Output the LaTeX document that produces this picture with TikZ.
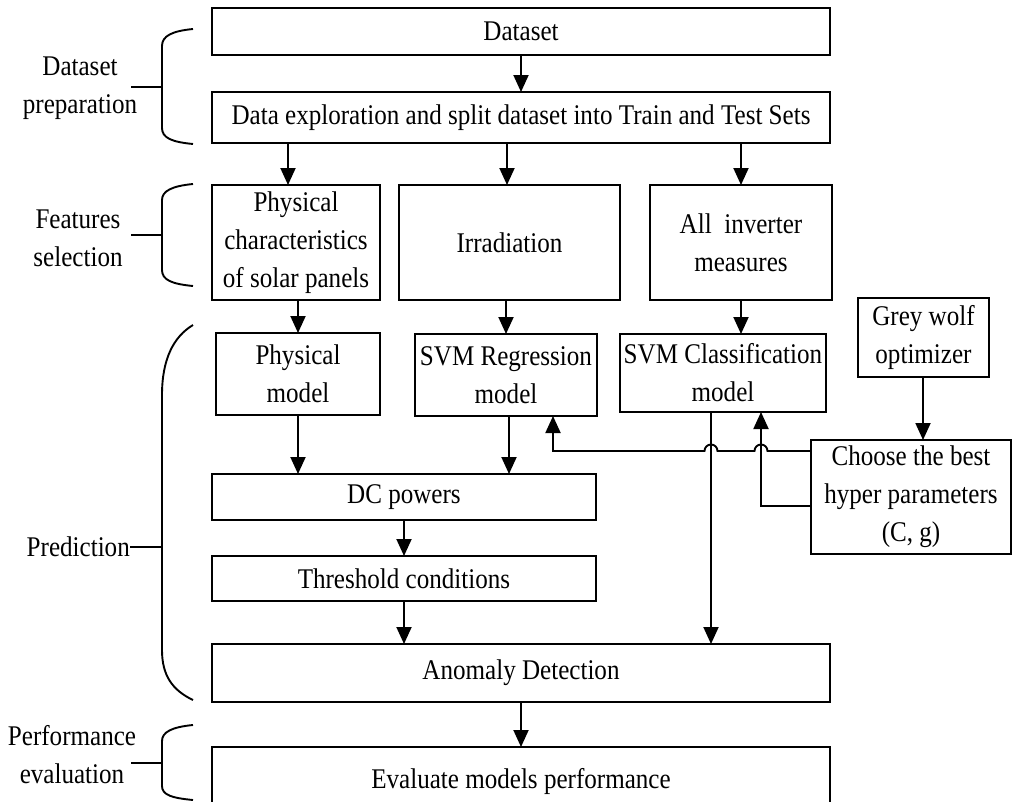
\documentclass[tikz,border=0pt]{standalone}
\usepackage{fontspec}
\setmainfont[FakeStretch=0.88]{Liberation Serif}
\usetikzlibrary{arrows.meta}
% box with corners (x1,y1)-(x2,y2), y growing downwards
\newcommand\flowbox[6]{%
  \node[box, minimum width={#4-#2}, minimum height={#5-#3}] (#1)
    at ({(#2+#4)/2},{(#3+#5)/2}) {#6};}
\begin{document}
\begin{tikzpicture}[x=1pt,y=-1pt,
  box/.style={draw, line width=1.9pt, inner sep=0pt, outer sep=0pt,
    align=center, font=\fontsize{28.5}{38}\selectfont},
  lbl/.style={align=center, inner sep=0pt, font=\fontsize{28.5}{38}\selectfont},
  arr/.style={line width=1.9pt, -{Triangle[length=17pt,width=15pt]}},
  brace/.style={line width=1.9pt},
]
\useasboundingbox (0,0) rectangle (1012,801);
\clip (0,0) rectangle (1012,801);

% processing blocks
\flowbox{dataset}{212}{8}{830}{55}{Dataset}
\flowbox{explore}{212}{92}{830}{143}{Data exploration and split dataset into Train and Test Sets}
\flowbox{physchar}{212}{185}{380}{300}{Physical\\characteristics\\of solar panels}
\flowbox{irrad}{399}{185}{620}{300}{Irradiation}
\flowbox{inverter}{650}{185}{832}{300}{All~ inverter\\measures}
\flowbox{grey}{858}{298}{989}{377}{Grey wolf\\optimizer}
\flowbox{physmodel}{216}{333}{380}{415}{Physical\\model}
\flowbox{svmreg}{415}{334}{597}{416}{SVM Regression\\model}
\flowbox{svmclass}{620}{334}{826}{412}{SVM Classification\\model}
\flowbox{choose}{811}{440}{1011}{554}{Choose the best\\hyper parameters\\(C, g)}
\flowbox{dc}{212}{474}{596}{520}{DC powers}
\flowbox{thresh}{212}{556}{596}{601}{Threshold conditions}
\flowbox{anomaly}{212}{644}{830}{702}{Anomaly Detection}
\flowbox{evaluate}{212}{747}{830}{815}{Evaluate models performance}

% stage labels
\node[lbl] (lprep) at (80,88) {Dataset\\preparation};
\node[lbl] (lfeat) at (78,238) {Features\\selection};
\node[lbl, anchor=east] (lpred) at (130,547) {Prediction};
\node[lbl] (lperf) at (72,755) {Performance\\evaluation};

% stage braces
\draw[brace] (193,29) .. controls (172,31) and (162,36) .. (162,46) -- (162,128)
  .. controls (162,138) and (172,142) .. (193,144);
\draw[brace] (131,87) -- (162,87);
\draw[brace] (193,184) .. controls (172,186) and (162,191) .. (162,200) -- (162,270)
  .. controls (162,280) and (172,284) .. (193,286);
\draw[brace] (131,235) -- (162,235);
\draw[brace] (193,325) .. controls (173,337) and (162,360) .. (162,395) -- (162,650)
  .. controls (162,675) and (172,690) .. (193,700);
\draw[brace] (130,547) -- (162,547);
\draw[brace] (193,725) .. controls (172,727) and (162,732) .. (162,741) -- (162,786)
  .. controls (162,795) and (172,798) .. (193,800);
\draw[brace] (131,763) -- (162,763);

% main flow
\draw[arr] (dataset.south) -- (explore.north);
\draw[arr] ([xshift=-8pt]physchar.north |- explore.south) -- ([xshift=-8pt]physchar.north);
\draw[arr] ([xshift=-2.5pt]irrad.north |- explore.south) -- ([xshift=-2.5pt]irrad.north);
\draw[arr] (inverter.north |- explore.south) -- (inverter.north);
\draw[arr] (physmodel.north |- physchar.south) -- (physmodel.north);
\draw[arr] (svmreg.north |- irrad.south) -- (svmreg.north);
\draw[arr] (inverter.south) -- (inverter.south |- svmclass.north);
\draw[arr] ([xshift=-0.5pt]grey.south) -- ([xshift=-0.5pt]grey.south |- choose.north);
\draw[arr] (physmodel.south) -- (physmodel.south |- dc.north);
\draw[arr] ([xshift=3pt]svmreg.south) -- ([xshift=3pt]svmreg.south |- dc.north);
\draw[arr] (dc.south) -- (thresh.north);
\draw[arr] (thresh.south) -- (thresh.south |- anomaly.north);
\coordinate (v1) at ([xshift=-12pt]svmclass.south);
\coordinate (v2) at ([xshift=38pt]svmclass.south);
\coordinate (v1r) at ([xshift=6.5pt]v1);
\coordinate (v2r) at ([xshift=6.5pt]v2);
\coordinate (rin) at ([xshift=47pt]svmreg.south);
\draw[arr] (v1) -- (v1 |- anomaly.north);
\draw[arr] (anomaly.south) -- (evaluate.north);

% tuned hyper-parameters fed back to both SVM models
\coordinate (h0) at ([yshift=-11pt]choose.north west);
\coordinate (h1) at ([yshift=-66pt]choose.north west);
\draw[arr] (h0) -- (v2r |- h0) arc[start angle=0, end angle=180, radius=6.5pt]
  -- (v1r |- h0) arc[start angle=0, end angle=180, radius=6.5pt]
  -- (rin |- h0) -- (rin);
\draw[arr] (h1) -- (v2 |- h1) -- (v2 |- svmclass.south);
\end{tikzpicture}
\end{document}
